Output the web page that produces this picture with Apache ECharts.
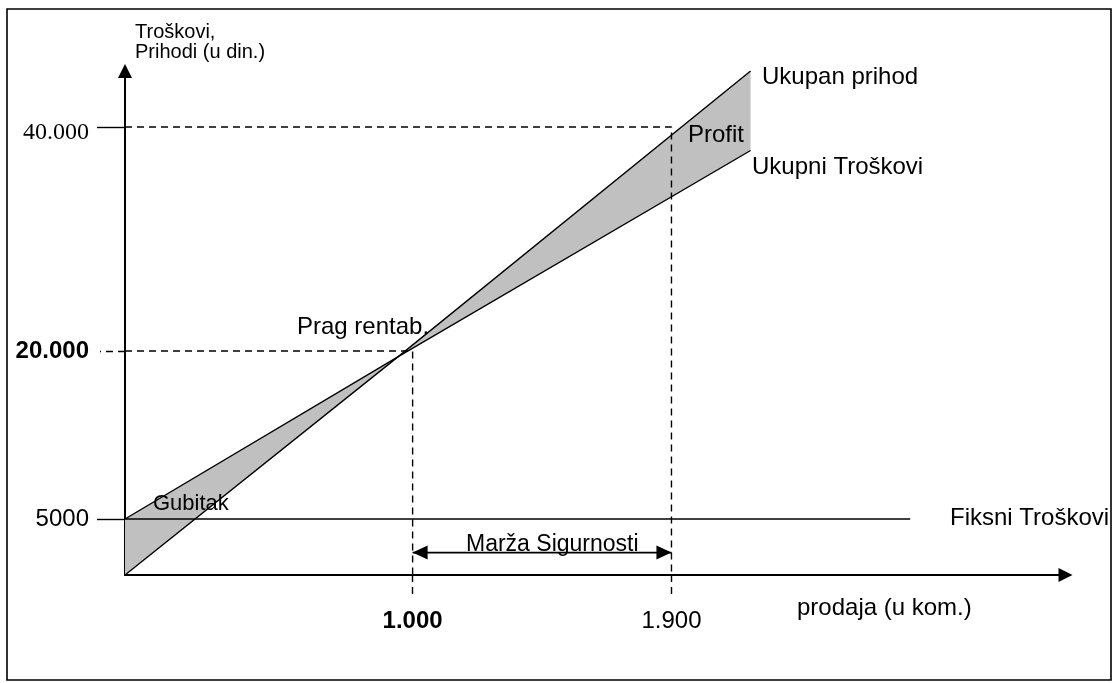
<!DOCTYPE html>
<html>
<head>
<meta charset="utf-8">
<script src="https://cdn.jsdelivr.net/npm/echarts@6/dist/echarts.min.js"></script>
<style>
  html, body { margin: 0; padding: 0; background: #fff; }
  #chart { width: 1112px; height: 683px; }
</style>
</head>
<body>
<div id="chart"></div>
<script>
// values (x = sold units, y = dinars)
var revenueX = [0, 950, 2175];
var revenueY = [0, 19500, 45000];
var costX = [0, 950, 2175];
var costY = [5000, 19500, 37900];
var fixedX = [0, 2730];
var fixedY = [5000, 5000];

var breakEven = [1000, 20000];
var safetyEnd = [1900, 40000];
var marginX = [1000, 1900];
var marginY = 2000;

var yTicks = [5000, 20000, 40000];
var yTickText = ['5000', '20.000', '40.000'];
var yTickStyle = ['n', 'b', 's'];
var xTicks = [1000, 1900];
var xTickText = ['1.000', '1.900'];
var xTickStyle = ['b', 'n'];

var SANS = '"Liberation Sans", Arial, sans-serif';
var SERIF = '"Liberation Serif", "Times New Roman", serif';

function pairs(xs, ys) {
    var out = [];
    for (var i = 0; i < xs.length; i++) out.push([xs[i], ys[i]]);
    return out;
}

function txt(text, x, y, size) {
    return {
        type: 'text', silent: true, z: 50,
        style: {
            text: text, x: x, y: y,
            font: (size || 24) + 'px ' + SANS,
            fill: '#000',
            align: 'left', verticalAlign: 'middle',
            textAlign: 'left', textVerticalAlign: 'middle'
        }
    };
}

// grey band between revenue and total cost
function renderBand(params, api) {
    var pts = [];
    for (var i = 0; i < revenueX.length; i++) pts.push(api.coord([revenueX[i], revenueY[i]]));
    for (var j = costX.length - 1; j >= 0; j--) pts.push(api.coord([costX[j], costY[j]]));
    return { type: 'polygon', shape: { points: pts }, style: { fill: '#c0c0c0' } };
}

// double headed arrow for the safety margin
function renderArrow(params, api) {
    var a = api.coord([marginX[0], marginY]);
    var b = api.coord([marginX[1], marginY]);
    var L = 15, W = 7;
    return {
        type: 'group',
        children: [
            { type: 'line', shape: { x1: a[0], y1: a[1], x2: b[0], y2: b[1] }, style: { stroke: '#000', lineWidth: 1.6 } },
            { type: 'polygon', shape: { points: [[a[0], a[1]], [a[0] + L, a[1] - W], [a[0] + L, a[1] + W]] }, style: { fill: '#000' } },
            { type: 'polygon', shape: { points: [[b[0], b[1]], [b[0] - L, b[1] - W], [b[0] - L, b[1] + W]] }, style: { fill: '#000' } }
        ]
    };
}

var solid = { color: '#000', width: 1.4 };
var dashed = { color: '#000', width: 1.4, type: [7, 5] };

var chart = echarts.init(document.getElementById('chart'));

var option = {
    backgroundColor: '#fff',
    animation: false,
    grid: { left: 125, right: 46.5, top: 71, bottom: 108, containLabel: false, outerBoundsMode: 'none' },
    xAxis: {
        type: 'value', min: 0, max: 3270,
        splitLine: { show: false },
        axisLine: { lineStyle: { color: '#000', width: 2 }, symbol: ['none', 'triangle'], symbolSize: [14, 14] },
        axisTick: { show: true, inside: false, length: 20, customValues: xTicks, lineStyle: dashed },
        axisLabel: {
            customValues: xTicks, margin: 34, color: '#000',
            formatter: function (v) {
                var i = xTicks.indexOf(v);
                return '{' + xTickStyle[i] + '|' + xTickText[i] + '}';
            },
            rich: {
                b: { fontFamily: SANS, fontSize: 24, fontWeight: 'bold', color: '#000' },
                n: { fontFamily: SANS, fontSize: 24, color: '#000' }
            }
        }
    },
    yAxis: [{
        type: 'value', min: 0, max: 45000,
        splitLine: { show: false },
        axisLine: { lineStyle: { color: '#000', width: 2 }, symbol: ['none', 'triangle'], symbolSize: [14, 14] },
        axisTick: { show: true, inside: false, length: 28, customValues: [5000, 40000], lineStyle: solid },
        axisLabel: {
            customValues: yTicks, margin: 36, color: '#000',
            formatter: function (v) {
                var i = yTicks.indexOf(v);
                return '{' + yTickStyle[i] + '|' + yTickText[i] + '}';
            },
            rich: {
                s: { fontFamily: SERIF, fontSize: 24, color: '#000', padding: [12, 0, 0, 0] },
                b: { fontFamily: SANS, fontSize: 24, fontWeight: 'bold', color: '#000' },
                n: { fontFamily: SANS, fontSize: 24, color: '#000' }
            }
        }
    }, {
        type: 'value', min: 0, max: 45000, position: 'left',
        splitLine: { show: false },
        axisLine: { show: false },
        axisTick: { show: true, inside: false, length: 25, customValues: [20000], lineStyle: dashed },
        axisLabel: { show: false }
    }],
    series: [
        {
            type: 'custom', renderItem: renderBand, data: [[0, 0]], silent: true, z: 1
        },
        {
            type: 'line', data: pairs(revenueX, revenueY), symbol: 'none', silent: true, z: 5,
            lineStyle: solid
        },
        {
            type: 'line', data: pairs(costX, costY), symbol: 'none', silent: true, z: 5,
            lineStyle: solid
        },
        {
            type: 'line', data: pairs(fixedX, fixedY), symbol: 'none', silent: true, z: 5,
            lineStyle: solid
        },
        {
            type: 'line', data: [[0, breakEven[1]], breakEven, [breakEven[0], 0]],
            symbol: 'none', silent: true, z: 4, lineStyle: dashed
        },
        {
            type: 'line', data: [[0, safetyEnd[1]], safetyEnd, [safetyEnd[0], 0]],
            symbol: 'none', silent: true, z: 4, lineStyle: dashed
        },
        {
            type: 'custom', renderItem: renderArrow, data: [[marginX[0], marginY]], silent: true, z: 6
        }
    ],
    graphic: [
        {
            type: 'rect', silent: true, z: 60,
            shape: { x: 7, y: 9, width: 1104, height: 671 },
            style: { fill: 'none', stroke: '#000', lineWidth: 1.6 }
        },
        txt('Troškovi,', 135, 32, 20),
        txt('Prihodi (u din.)', 135, 52, 20),
        txt('Ukupan prihod', 762, 77),
        txt('Profit', 688, 135),
        txt('Ukupni Troškovi', 752, 167),
        txt('Prag rentab.', 297, 327),
        txt('Gubitak', 153, 504, 22),
        txt('Fiksni Troškovi', 950, 518),
        txt('Marža Sigurnosti', 466, 545, 23),
        txt('prodaja (u kom.)', 797, 608)
    ]
};

chart.setOption(option);
</script>
</body>
</html>
